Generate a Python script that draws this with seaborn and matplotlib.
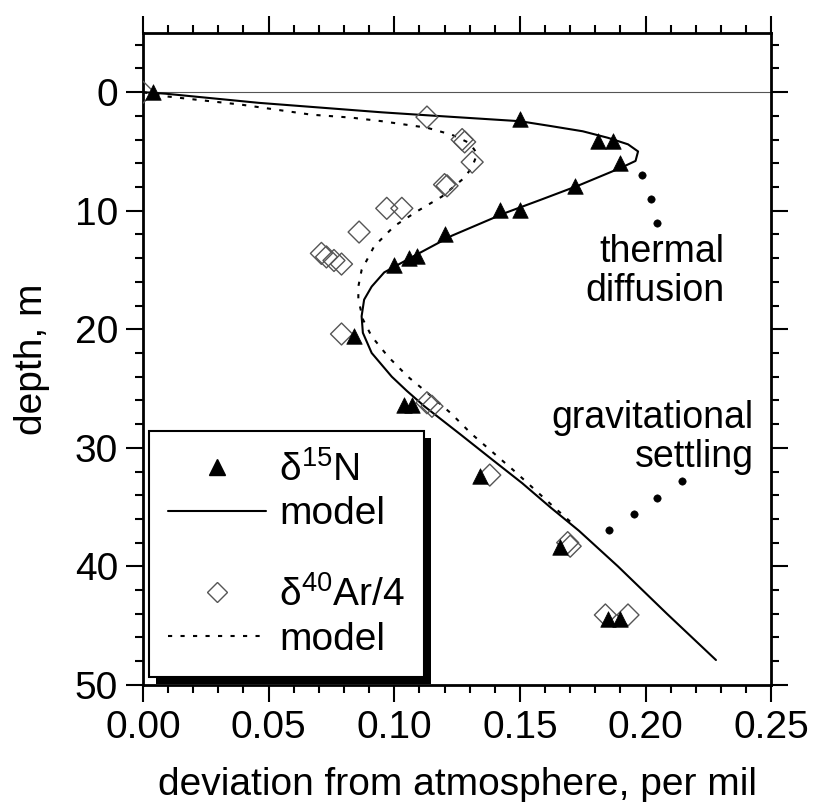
import matplotlib
matplotlib.use('Agg')
import numpy as np
import pandas as pd
import matplotlib.pyplot as plt
import matplotlib.patheffects as pe
from matplotlib.lines import Line2D
from matplotlib.ticker import MultipleLocator
import seaborn as sns

# measured firn air data (deviation in per mil, depth in m)
n15_dev = [0.004, 0.150, 0.181, 0.187, 0.190, 0.172, 0.142, 0.150, 0.120,
           0.106, 0.109, 0.100, 0.084, 0.104, 0.107, 0.134, 0.166, 0.185, 0.190]
n15_depth = [0.0, 2.3, 4.1, 4.1, 6.0, 7.9, 9.9, 9.9, 12.0,
             14.0, 13.8, 14.6, 20.6, 26.4, 26.4, 32.4, 38.4, 44.4, 44.4]

ar_dev = [0.000, 0.113, 0.127, 0.128, 0.131, 0.120, 0.121, 0.097, 0.103, 0.086,
          0.071, 0.073, 0.076, 0.079, 0.079, 0.113, 0.115, 0.138, 0.169, 0.170,
          0.184, 0.193]
ar_depth = [0.0, 2.1, 4.0, 4.2, 5.9, 7.8, 7.9, 9.8, 9.8, 11.8,
            13.6, 13.9, 14.2, 14.5, 20.4, 26.2, 26.5, 32.3, 38.0, 38.3,
            44.1, 44.1]

# model curves
n15_model_dev = [0.000, 0.009, 0.046, 0.095, 0.113, 0.150, 0.162, 0.175, 0.185,
                 0.193, 0.197, 0.196, 0.190, 0.173, 0.158, 0.144, 0.123, 0.108,
                 0.096, 0.091, 0.088, 0.087, 0.0875, 0.091, 0.099, 0.105, 0.112,
                 0.1265, 0.139, 0.151, 0.162, 0.1735, 0.189, 0.2085, 0.228]
n15_model_depth = [0.0, 0.13, 0.9, 1.7, 1.95, 2.45, 2.85, 3.3, 3.85,
                   4.4, 5.0, 5.8, 6.4, 7.9, 9.1, 10.2, 12.1, 13.8,
                   15.2, 16.4, 17.5, 18.9, 20.3, 22.0, 24.0, 25.2, 26.5,
                   28.9, 31.0, 33.0, 35.0, 37.0, 40.0, 44.0, 47.9]

ar_model_dev = [0.000, 0.009, 0.039, 0.067, 0.083, 0.095, 0.113, 0.123, 0.130,
                0.133, 0.131, 0.128, 0.119, 0.109, 0.100, 0.092, 0.087, 0.0857,
                0.0857, 0.0876, 0.091, 0.0975, 0.1054, 0.1134, 0.1226, 0.1306,
                0.148, 0.163, 0.172]
ar_model_depth = [0.0, 0.35, 1.05, 1.9, 2.15, 2.45, 3.0, 3.6, 4.3,
                  5.2, 6.3, 7.2, 8.8, 10.06, 11.3, 13.0, 15.0, 16.4,
                  17.5, 19.2, 20.6, 22.3, 24.0, 25.4, 27.1, 28.8,
                  32.0, 34.9, 36.6]

# pointer dots for the annotations
thermal_dev = [0.1987, 0.202, 0.2045]
thermal_depth = [7.0, 9.0, 11.0]
grav_dev = [0.2145, 0.2046, 0.1954, 0.1854]
grav_depth = [32.8, 34.2, 35.6, 36.9]

x_ticks = [0.00, 0.05, 0.10, 0.15, 0.20, 0.25]
y_ticks = [0, 10, 20, 30, 40, 50]

sns.set_style('ticks')
plt.rcParams['font.family'] = ['Liberation Sans', 'DejaVu Sans']
plt.rcParams['mathtext.fontset'] = 'custom'
plt.rcParams['mathtext.rm'] = 'Liberation Sans'
plt.rcParams['mathtext.it'] = 'Liberation Sans:italic'
plt.rcParams['text.color'] = 'k'
plt.rcParams['axes.labelcolor'] = 'k'

fig = plt.figure(figsize=(8.17, 8.02), dpi=100)
ax = fig.add_axes([0.175, 0.146, 0.769, 0.813])

dotted = (0, (2, 4))

n_model = pd.DataFrame({'dev': n15_model_dev, 'depth': n15_model_depth})
a_model = pd.DataFrame({'dev': ar_model_dev, 'depth': ar_model_depth})
sns.lineplot(data=n_model, x='dev', y='depth', sort=False, estimator=None,
             color='k', lw=1.5, ax=ax)
sns.lineplot(data=a_model, x='dev', y='depth', sort=False, estimator=None,
             color='k', lw=1.5, linestyle=dotted, ax=ax)

sns.scatterplot(x=ar_dev, y=ar_depth, marker='D', s=125, facecolor='none',
                edgecolor='#555555', linewidth=1.0, ax=ax, zorder=3)
sns.scatterplot(x=n15_dev, y=n15_depth, marker='^', s=125, color='k',
                edgecolor='k', linewidth=0.5, ax=ax, zorder=4)

sns.scatterplot(x=thermal_dev, y=thermal_depth, marker='o', s=28, color='k',
                edgecolor='k', ax=ax)
sns.scatterplot(x=grav_dev, y=grav_depth, marker='o', s=28, color='k',
                edgecolor='k', ax=ax)

ax.axhline(0, color='#555555', lw=0.8, zorder=1)

ax.text(0.2315, 15.1, 'thermal\ndiffusion', ha='right', va='center',
        multialignment='right', fontsize=27, linespacing=1.1)
ax.text(0.243, 29.1, 'gravitational\nsettling', ha='right', va='center',
        multialignment='right', fontsize=27, linespacing=1.1)

ax.set_xlim(0, 0.25)
ax.set_ylim(50, -5)
ax.set_xticks(x_ticks)
ax.set_xticklabels([f'{t:.2f}' for t in x_ticks])
ax.set_yticks(y_ticks)
ax.xaxis.set_minor_locator(MultipleLocator(0.01))
ax.yaxis.set_minor_locator(MultipleLocator(2))
ax.tick_params(which='both', direction='out', top=True, right=True,
               labeltop=False, labelright=False, labelsize=28, width=1.5,
               color='k', labelcolor='k', pad=6)
ax.tick_params(which='major', length=12)
ax.tick_params(which='minor', length=6)
for s in ax.spines.values():
    s.set_linewidth(2)
    s.set_color('k')

ax.set_xlabel('deviation from atmosphere, per mil', fontsize=28, labelpad=15)
ax.set_ylabel('depth, m', fontsize=28, labelpad=18)

handles = [
    Line2D([], [], marker='^', color='k', ls='', markersize=11),
    Line2D([], [], color='k', lw=1.5),
    Line2D([], [], ls=''),
    Line2D([], [], marker='D', mfc='none', mec='#555555', ls='', markersize=10),
    Line2D([], [], color='k', lw=1.5, ls=dotted),
]
labels = [r'δ$^{15}$N', 'model', ' ', r'δ$^{40}$Ar/4', 'model']
leg = ax.legend(handles, labels, loc='lower left', bbox_to_anchor=(0.0095, 0.012),
                borderaxespad=0, fontsize=28, handlelength=2.5, handletextpad=0.35,
                labelspacing=0.2, borderpad=0.5, frameon=True, fancybox=False,
                edgecolor='k', framealpha=1)
leg.get_frame().set_linewidth(1.5)
leg.get_texts()[2].set_fontsize(4)
leg.get_frame().set_path_effects([
    pe.SimplePatchShadow(offset=(5, -5), shadow_rgbFace='k', alpha=1),
    pe.Normal()])

fig.savefig('out.png', dpi=100)
